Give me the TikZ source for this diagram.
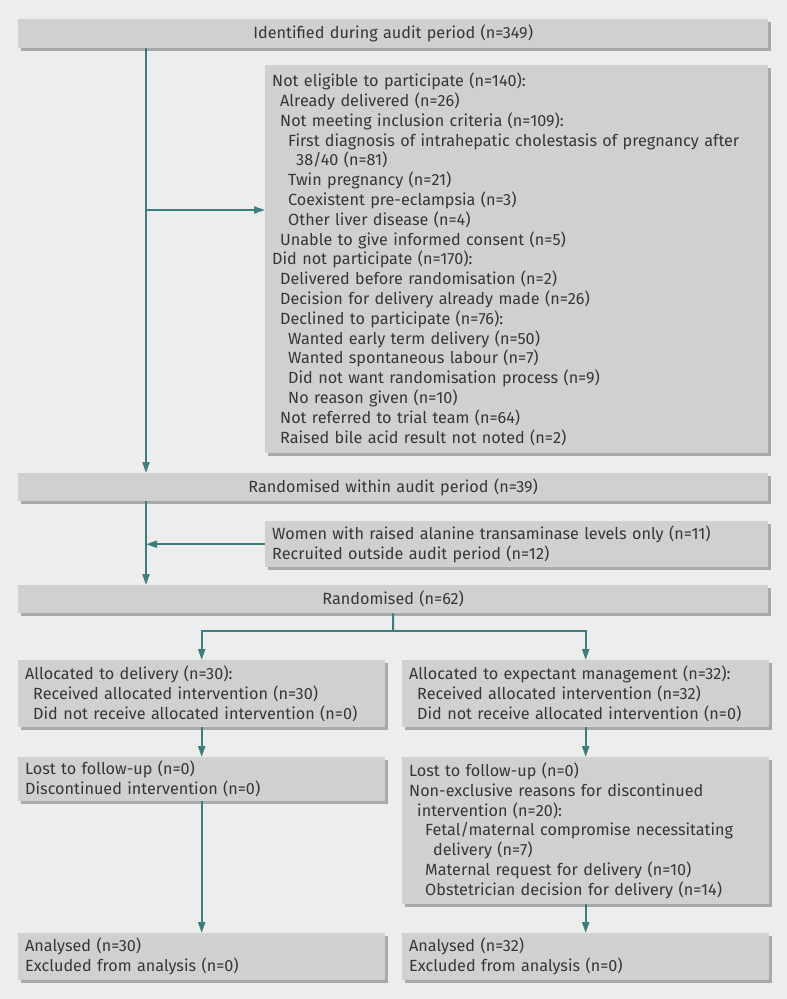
\documentclass[tikz,border=0pt]{standalone}
\usepackage{fontspec}
\setmainfont{Fira Sans}
\usetikzlibrary{arrows.meta,shadows}

\definecolor{pagegray}{HTML}{EDEDED}
\definecolor{boxgray}{HTML}{D0D0D0}
\definecolor{shadegray}{HTML}{A9A9A9}
\definecolor{flowteal}{HTML}{3B7E7E}
\definecolor{inkgray}{HTML}{363636}

\newcommand{\lvl}[1]{\hspace*{#1pt}}

\begin{document}
\begin{tikzpicture}[x=1pt,y=-1pt,
	every node/.style={font=\fontsize{16.2pt}{19.8pt}\selectfont, text=inkgray},
	box/.style={fill=boxgray, anchor=north west, inner xsep=7pt, inner ysep=0pt,
		drop shadow={shadow xshift=3pt, shadow yshift=-3pt, fill=shadegray, opacity=1}},
	widebox/.style={box, text width=736pt, align=center},
	sidebox/.style={box, text width=489pt, align=left},
	halfbox/.style={box, text width=353pt, align=left},
	link/.style={draw=flowteal, line width=2pt},
	flow/.style={link, -{Triangle[length=11pt,width=7pt]}}]
	
	\fill[pagegray] (0,0) rectangle (787,999);
	\useasboundingbox (0,0) rectangle (787,999);
	
	% screening
	\node[widebox, minimum height=29pt] (ident) at (18,19) {Identified during audit period (n=349)};
	
	\node[sidebox, minimum height=388pt] (notelig) at (265,65) {Not eligible to participate (n=140):\\
		\lvl{8}Already delivered (n=26)\\
		\lvl{8}Not meeting inclusion criteria (n=109):\\
		\lvl{16}First diagnosis of intrahepatic cholestasis of pregnancy after\\
		\lvl{24}38/40 (n=81)\\
		\lvl{16}Twin pregnancy (n=21)\\
		\lvl{16}Coexistent pre-eclampsia (n=3)\\
		\lvl{16}Other liver disease (n=4)\\
		\lvl{8}Unable to give informed consent (n=5)\\
		Did not participate (n=170):\\
		\lvl{8}Delivered before randomisation (n=2)\\
		\lvl{8}Decision for delivery already made (n=26)\\
		\lvl{8}Declined to participate (n=76):\\
		\lvl{16}Wanted early term delivery (n=50)\\
		\lvl{16}Wanted spontaneous labour (n=7)\\
		\lvl{16}Did not want randomisation process (n=9)\\
		\lvl{16}No reason given (n=10)\\
		\lvl{8}Not referred to trial team (n=64)\\
		\lvl{8}Raised bile acid result not noted (n=2)};
	
	\node[widebox, minimum height=28pt] (randwithin) at (18,473) {Randomised within audit period (n=39)};
	
	\node[sidebox, minimum height=46pt] (extra) at (265,521) {Women with raised alanine transaminase levels only (n=11)\\
		Recruited outside audit period (n=12)};
	
	\node[widebox, minimum height=28pt] (rand) at (18,585) {Randomised (n=62)};
	
	% allocation
	\node[halfbox, minimum height=67pt] (allocdel) at (18,660) {Allocated to delivery (n=30):\\
		\lvl{8}Received allocated intervention (n=30)\\
		\lvl{8}Did not receive allocated intervention (n=0)};
	\node[halfbox, minimum height=67pt] (allocexp) at (402,660) {Allocated to expectant management (n=32):\\
		\lvl{8}Received allocated intervention (n=32)\\
		\lvl{8}Did not receive allocated intervention (n=0)};
	
	% follow-up
	\node[halfbox, minimum height=44pt] (lostdel) at (18,757) {Lost to follow-up (n=0)\\
		Discontinued intervention (n=0)};
	\node[halfbox, minimum height=147pt] (lostexp) at (402,757) {Lost to follow-up (n=0)\\
		Non-exclusive reasons for discontinued\\
		\lvl{8}intervention (n=20):\\
		\lvl{16}Fetal/maternal compromise necessitating\\
		\lvl{24}delivery (n=7)\\
		\lvl{16}Maternal request for delivery (n=10)\\
		\lvl{16}Obstetrician decision for delivery (n=14)};
	
	% analysis
	\node[halfbox, minimum height=47pt] (anadel) at (18,933) {Analysed (n=30)\\
		Excluded from analysis (n=0)};
	\node[halfbox, minimum height=47pt] (anaexp) at (402,933) {Analysed (n=32)\\
		Excluded from analysis (n=0)};
	
	\coordinate (trunk) at (146,210);
	\coordinate (split) at (393,631);
	
	\draw[flow] (ident.south -| trunk) -- (randwithin.north -| trunk);
	\draw[flow] (trunk) -- (trunk -| notelig.west);
	\draw[flow] (randwithin.south -| trunk) -- (rand.north -| trunk);
	\draw[flow] (extra.west) -- (extra.west -| trunk);
	
	\draw[link] (rand.south) -- (split);
	\draw[flow] (split) -| (allocdel.north);
	\draw[flow] (split) -| (allocexp.north);
	
	\draw[flow] (allocdel) -- (lostdel);
	\draw[flow] (allocexp) -- (lostexp);
	\draw[flow] (lostdel) -- (anadel);
	\draw[flow] (lostexp) -- (anaexp);
	
\end{tikzpicture}
\end{document}
